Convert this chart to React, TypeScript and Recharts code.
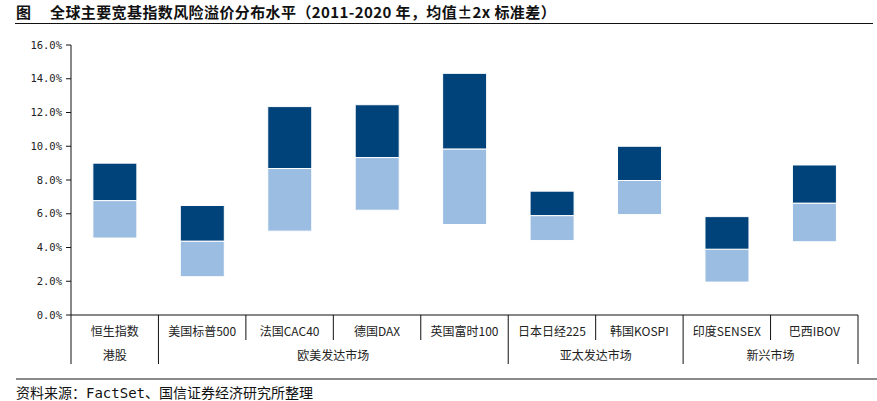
import React from 'react';
import { BarChart, Bar, XAxis, YAxis } from 'recharts';

const categories = ['恒生指数', '美国标普500', '法国CAC40', '德国DAX', '英国富时100', '日本日经225', '韩国KOSPI', '印度SENSEX', '巴西IBOV'];
const groups = ['港股', '欧美发达市场', '欧美发达市场', '欧美发达市场', '欧美发达市场', '亚太发达市场', '亚太发达市场', '新兴市场', '新兴市场'];
const lowerBound = [4.56, 2.27, 4.97, 6.21, 5.36, 4.41, 5.95, 1.95, 4.34];
const meanValue = [6.78, 4.38, 8.68, 9.33, 9.84, 5.89, 7.97, 3.9, 6.63];
const upperBound = [9.0, 6.49, 12.35, 12.46, 14.32, 7.34, 10.0, 5.83, 8.89];
const yTicks = [0, 2, 4, 6, 8, 10, 12, 14, 16];

const titleText = '全球主要宽基指数风险溢价分布水平（2011-2020 年，均值±2x 标准差）';
const sourceText = '资料来源：FactSet、国信证券经济研究所整理';

const data = categories.map((name, i) => ({
  name,
  group: groups[i],
  base: lowerBound[i],
  lo: +(meanValue[i] - lowerBound[i]).toFixed(2),
  hi: +(upperBound[i] - meanValue[i]).toFixed(2),
}));

const DARK = '#00427A';
const LIGHT = '#9BBDE2';
const CJK = '"Noto Sans CJK SC", "Noto Sans", sans-serif';

function CatTick(props: any) {
  const { x, y, payload, index, width, visibleTicksCount } = props;
  const n = visibleTicksCount || categories.length;
  const band = width && n ? width / n : (payload?.offset ?? 22) * 2;
  const half = band / 2;
  const i = index;
  const isGroupStart = i === 0 || groups[i] !== groups[i - 1];
  const left = x - half;
  const elems: any[] = [];
  elems.push(
    <line key="l" x1={left} x2={left} y1={y} y2={y + (isGroupStart ? 49 : 25)} stroke="#111" strokeWidth={1} />
  );
  if (i === categories.length - 1) {
    elems.push(<line key="r" x1={x + half} x2={x + half} y1={y} y2={y + 49} stroke="#111" strokeWidth={1} />);
  }
  elems.push(
    <text key="t" x={x} y={y + 21} textAnchor="middle" fontSize={12} fontFamily={CJK} fill="#222">
      {payload.value}
    </text>
  );
  if (isGroupStart) {
    let span = 0;
    for (let k = i; k < groups.length && groups[k] === groups[i]; k++) span++;
    const cx = left + (span * band) / 2;
    elems.push(
      <text key="g" x={cx} y={y + 45} textAnchor="middle" fontSize={12} fontFamily={CJK} fill="#222">
        {groups[i]}
      </text>
    );
  }
  return <g>{elems}</g>;
}

export default function App() {
  return (
    <div style={{ position: 'absolute', left: 0, top: 0, width: 877, height: 401, background: '#fff', overflow: 'hidden' }}>
      <div style={{ position: 'absolute', left: 16, top: 4, fontSize: 15, lineHeight: '15px', fontFamily: CJK, fontWeight: 'bold', color: '#111', whiteSpace: 'nowrap' }}>
        图
      </div>
      <div style={{ position: 'absolute', left: 50, top: 4, fontSize: 15, lineHeight: '15px', fontFamily: CJK, fontWeight: 'bold', letterSpacing: 0.4, color: '#111', whiteSpace: 'nowrap' }}>
        {titleText}
      </div>
      <div style={{ position: 'absolute', left: 15, top: 22.5, width: 858, height: 1.5, background: '#111' }} />
      <div style={{ position: 'absolute', left: 0, top: 0 }}>
        <BarChart
          width={877}
          height={401}
          data={data}
          margin={{ top: 45, right: 19, left: 0, bottom: 0 }}
          barCategoryGap="25%"
        >
          <YAxis
            width={71}
            domain={[0, 16]}
            ticks={yTicks}
            interval={0}
            tickFormatter={(v: number) => `${v.toFixed(1)}%`}
            axisLine={{ stroke: '#111' }}
            tickLine={{ stroke: '#111' }}
            tickSize={5}
            tickMargin={4}
            tick={{ fontSize: 10.5, fontFamily: '"DejaVu Sans Mono", monospace', fill: '#222' }}
          />
          <XAxis
            dataKey="name"
            height={86}
            interval={0}
            tickLine={false}
            tickSize={0}
            tickMargin={0}
            axisLine={{ stroke: '#111' }}
            tick={<CatTick />}
          />
          <Bar dataKey="base" stackId="a" fill="transparent" isAnimationActive={false} />
          <Bar dataKey="lo" stackId="a" fill={LIGHT} stroke="#fff" strokeWidth={1} isAnimationActive={false} />
          <Bar dataKey="hi" stackId="a" fill={DARK} stroke="#fff" strokeWidth={1} isAnimationActive={false} />
        </BarChart>
      </div>
      <div style={{ position: 'absolute', left: 16, top: 377.5, width: 861, height: 2, background: '#8a8a8a' }} />
      <div style={{ position: 'absolute', left: 16, top: 386, fontSize: 14, lineHeight: '14px', fontFamily: '"DejaVu Sans Mono", "Noto Sans CJK SC", monospace', color: '#111', whiteSpace: 'nowrap' }}>
        {sourceText}
      </div>
    </div>
  );
}
